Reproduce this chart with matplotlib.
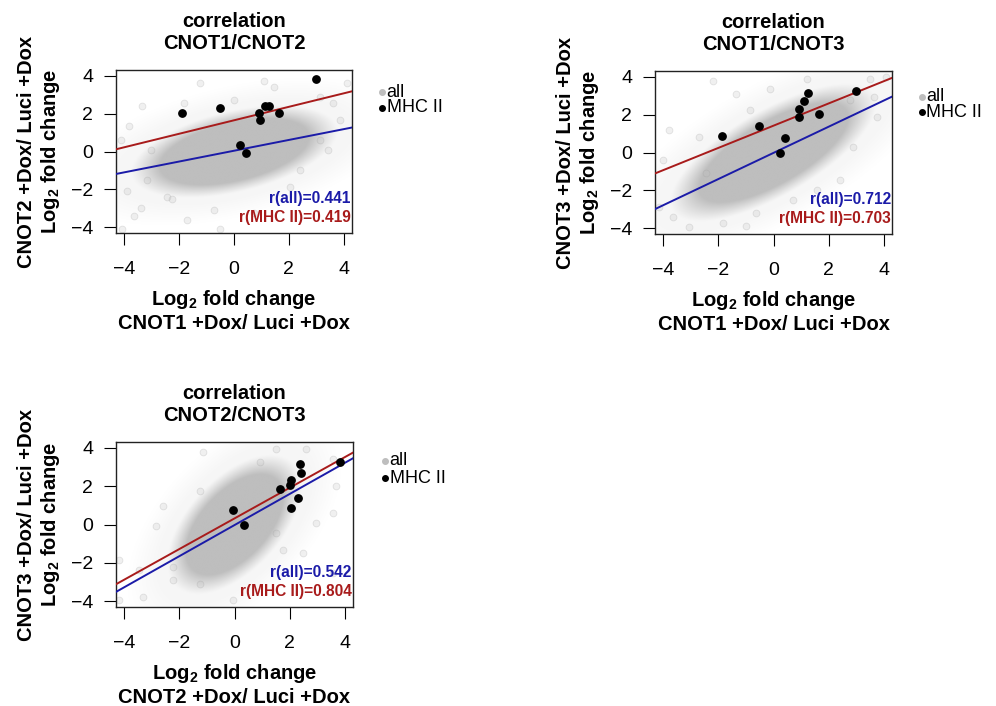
import numpy as np
import matplotlib
matplotlib.use('Agg')
import matplotlib.pyplot as plt
from matplotlib.colors import LinearSegmentedColormap

plt.rcParams['font.family'] = ['Liberation Sans', 'DejaVu Sans']
plt.rcParams['mathtext.fontset'] = 'custom'
plt.rcParams['mathtext.rm'] = 'Liberation Sans'
plt.rcParams['mathtext.bf'] = 'Liberation Sans:bold'

# MHC II genes, log2 fold change (+Dox / Luci +Dox)
cnot1_mhc = [-1.88, -0.52, 0.22, 0.42, 0.91, 0.94, 1.12, 1.27, 1.65, 2.98]
cnot2_mhc = [2.05, 2.30, 0.36, -0.06, 2.04, 1.66, 2.40, 2.38, 2.03, 3.83]
cnot3_mhc = [0.86, 1.40, -0.02, 0.76, 2.30, 1.86, 2.71, 3.16, 2.04, 3.25]
mhc = {'CNOT1': cnot1_mhc, 'CNOT2': cnot2_mhc, 'CNOT3': cnot3_mhc}

pairs = [('CNOT1', 'CNOT2'), ('CNOT1', 'CNOT3'), ('CNOT2', 'CNOT3')]
r_all_txt = ['0.441', '0.712', '0.542']
r_mhc_txt = ['0.419', '0.703', '0.804']

# shape of the dense "all" cloud
cloud_sd_x = [1.0, 1.0, 0.65]
cloud_sd_y = [0.65, 0.97, 0.97]
cloud_r = [0.441, 0.712, 0.542]

# blue fit line through all genes
all_slope = [0.285, 0.69, 0.81]
all_icpt = [0.04, -0.02, -0.03]

# sparse grey points outside the dense cloud
out_x1 = [-1.25, 1.08, -3.35, -3.83, -4.1, -3.16, -3.9, -3.4, -3.65, -4.07, -2.44, -2.25, -0.5, -1.7,
          3.14, 3.6, 3.87, 3.14, 3.44, 2.4, 2.05, 1.44, 0.0, -1.83, -3.04, 4.1, -0.74, 0.72]
out_y1 = [3.6, 3.74, 2.4, 1.32, 0.6, -1.5, -2.1, -3.0, -3.4, -4.1, -2.4, -2.5, -4.1, -3.6,
          2.9, 2.55, 1.67, 0.6, 0.1, -0.97, -1.85, 3.4, 2.7, 2.55, 0.1, 3.6, -3.08, -3.26]
out_x2 = [-2.2, -0.13, 1.2, 3.5, 4.1, -3.78, -2.69, -4.02, -4.15, -3.66, -3.05, -1.84, -0.98, -0.62,
          0.72, 1.57, 2.42, 2.9, 3.76, -1.35, -0.86, 3.64, 2.78, -2.44]
out_y2 = [3.75, 3.37, 3.9, 3.9, 4.0, 1.18, 0.82, -0.4, -2.86, -3.39, -3.91, -3.7, -3.9, -3.2,
          -2.5, -1.98, -1.46, 0.3, 1.88, 3.1, 2.23, 2.93, 2.75, -1.1]
out_x3 = [1.52, 2.6, -1.15, 3.58, 3.58, 2.97, 3.7, -2.6, -1.27, -4.18, -3.45, -3.33, -4.18, -2.24,
          -1.27, -0.06, 2.48, 1.76, 1.52, 0.91, 3.58, -2.85, -2.24]
out_y3 = [3.96, 3.96, 3.79, 3.44, 0.62, 0.09, 2.03, 0.97, 1.76, -1.85, -2.38, -3.79, -3.96, -2.9,
          -3.08, -3.96, -1.5, -1.32, -0.44, 3.26, -2.55, -0.09, -2.2]
out_x = [out_x1, out_x2, out_x3]
out_y = [out_y1, out_y2, out_y3]

ticks = [-4, -2, 0, 2, 4]

W, H = 996, 706
rects_px = [(116, 70, 236, 163), (655, 71, 237, 163), (116, 442, 237, 165)]
legend_pos = [(1.127, 0.865, 0.767), (1.125, 0.842, 0.748), (1.135, 0.887, 0.78)]

blue = '#1b1ba8'
red = '#a81b1b'
grey = '#bebebe'
cloud_cmap = LinearSegmentedColormap.from_list('cloud', ['white', grey])

fig = plt.figure(figsize=(W / 100, H / 100), dpi=100)

for i, (gx, gy) in enumerate(pairs):
    l, t, w, h = rects_px[i]
    ax = fig.add_axes([l / W, (H - t - h) / H, w / W, h / H])
    ax.set_xlim(-4.3, 4.3)
    ax.set_ylim(-4.3, 4.3)

    # dense cloud as a soft elliptical density
    gxx = np.linspace(-4.3, 4.3, 400)
    X, Y = np.meshgrid(gxx, gxx)
    sx, sy, rr = cloud_sd_x[i], cloud_sd_y[i], cloud_r[i]
    zx, zy = X / sx, Y / sy
    d = np.sqrt((zx ** 2 - 2 * rr * zx * zy + zy ** 2) / (1 - rr ** 2))
    core = np.clip((4.0 - d) / 1.3, 0, 1) ** 1.2
    halo = 0.14 * np.clip((6.0 - d) / 1.8, 0, 1)
    ax.imshow(np.maximum(core, halo), cmap=cloud_cmap, vmin=0, vmax=1,
              extent=(-4.3, 4.3, -4.3, 4.3), origin='lower', aspect='auto',
              interpolation='bilinear', zorder=1)

    ax.scatter(out_x[i], out_y[i], s=24, facecolor=(0.75, 0.75, 0.75, 0.22),
               edgecolor=(0.6, 0.6, 0.6, 0.25), linewidth=0.6, zorder=2)

    xs = np.array([-4.3, 4.3])
    ax.plot(xs, all_slope[i] * xs + all_icpt[i], color=blue, lw=1.4, zorder=3)
    k, b = np.polyfit(mhc[gx], mhc[gy], 1)
    ax.plot(xs, k * xs + b, color=red, lw=1.4, zorder=3)

    ax.scatter(mhc[gx], mhc[gy], s=28, color='black', zorder=4)

    ax.text(0.995, 0.21, 'r(all)=' + r_all_txt[i], color=blue, fontsize=11.2,
            fontweight='bold', ha='right', va='center', transform=ax.transAxes, zorder=5)
    ax.text(0.995, 0.095, 'r(MHC II)=' + r_mhc_txt[i], color=red, fontsize=11.2,
            fontweight='bold', ha='right', va='center', transform=ax.transAxes, zorder=5)

    ax.set_xticks(ticks)
    ax.set_yticks(ticks)
    ax.tick_params(direction='out', length=8.5, width=0.8, labelsize=14)
    ax.tick_params(axis='x', pad=12)
    ax.tick_params(axis='y', pad=8)
    for s in ax.spines.values():
        s.set_linewidth(1.0)
        s.set_color('#222222')

    ax.set_title('correlation\n%s/%s' % (gx, gy), fontsize=14.5, fontweight='bold',
                 pad=15, linespacing=1.2)
    ax.set_xlabel('Log$_\\mathbf{2}$ fold change\n%s +Dox/ Luci +Dox' % gx, fontsize=14.5,
                  fontweight='bold', labelpad=7, linespacing=1.2)
    ax.set_ylabel('%s +Dox/ Luci +Dox\nLog$_\\mathbf{2}$ fold change' % gy, fontsize=14.5,
                  fontweight='bold', labelpad=6, linespacing=1.2)

    lx, ly1, ly2 = legend_pos[i]
    ax.plot([lx], [ly1], 'o', color=grey, ms=4, transform=ax.transAxes, clip_on=False)
    ax.plot([lx], [ly2], 'o', color='black', ms=4, transform=ax.transAxes, clip_on=False)
    ax.text(lx + 0.02, ly1, 'all', fontsize=13, va='center', transform=ax.transAxes)
    ax.text(lx + 0.02, ly2, 'MHC II', fontsize=13, va='center', transform=ax.transAxes)

fig.savefig('out.png', dpi=100)
